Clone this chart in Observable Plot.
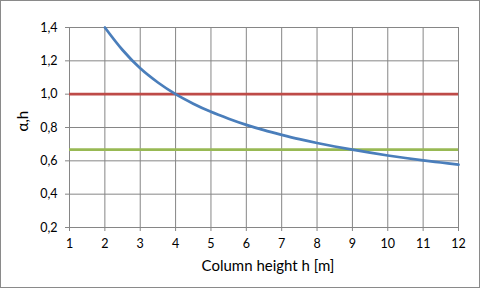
<!DOCTYPE html>
<html>
<head>
<meta charset="utf-8">
<script src="https://cdn.jsdelivr.net/npm/d3@7"></script>
<script src="https://cdn.jsdelivr.net/npm/@observablehq/plot@0.6"></script>
<style>
  html, body { margin: 0; padding: 0; background: #fff; }
  #chart svg { display: block; outline: 1px solid #8a8a8a; outline-offset: -1px; }
</style>
</head>
<body>
<div id="chart"></div>
<script>
// Column height h [m]
const heights = [2, 2.5, 3, 3.5, 4, 4.5, 5, 5.5, 6, 6.5, 7, 7.5, 8, 8.5, 9, 9.5, 10, 10.5, 11, 11.5, 12];
// alpha_h
const alphaH = [1.40, 1.265, 1.155, 1.07, 1.00, 0.943, 0.894, 0.853, 0.816, 0.784, 0.756, 0.730, 0.707, 0.686, 0.667, 0.649, 0.632, 0.617, 0.603, 0.590, 0.577];
// horizontal reference lines
const upperLimit = 1.0;
const lowerLimit = 0.667;
const xTicks = [1, 2, 3, 4, 5, 6, 7, 8, 9, 10, 11, 12];
const yTicks = [0.2, 0.4, 0.6, 0.8, 1.0, 1.2, 1.4];
const xLabel = "Column height h [m]";
const yLabel = "α,h";

const curve = heights.map((h, i) => ({h, a: alphaH[i]}));
const fmt = d => d.toFixed(1).replace(".", ",");
const font = "Lato, 'Open Sans', sans-serif";

const chart = Plot.plot({
  width: 480,
  height: 288,
  marginLeft: 69,
  marginRight: 22,
  marginTop: 27,
  marginBottom: 61,
  style: {fontFamily: font, fontSize: "12px", color: "#000", background: "#fff"},
  x: {domain: [1, 12]},
  y: {domain: [0.2, 1.4]},
  marks: [
    Plot.gridX(xTicks, {stroke: "#868686", strokeOpacity: 1}),
    Plot.gridY(yTicks, {stroke: "#868686", strokeOpacity: 1}),
    Plot.axisX(xTicks, {tickSize: 4, tickPadding: 8, stroke: "#868686", label: null, fontSize: 12.5}),
    Plot.axisY(yTicks, {tickSize: 4, tickPadding: 8, stroke: "#868686", tickFormat: fmt, label: null, fontSize: 12.5}),
    Plot.text([xLabel], {frameAnchor: "bottom", dx: 4, dy: 43, fontSize: 15, fill: "#000"}),
    Plot.text([yLabel], {frameAnchor: "left", dx: -46, dy: 4, rotate: -90, fontSize: 15, fill: "#000"}),
    Plot.ruleY([upperLimit], {x1: 1, x2: 12, stroke: "#BE4B48", strokeWidth: 2.75}),
    Plot.ruleY([lowerLimit], {x1: 1, x2: 12, stroke: "#98B954", strokeWidth: 2.75}),
    Plot.line(curve, {x: "h", y: "a", curve: "catmull-rom", stroke: "#4A7EBB", strokeWidth: 2.75})
  ]
});
document.getElementById("chart").appendChild(chart);
</script>
</body>
</html>
